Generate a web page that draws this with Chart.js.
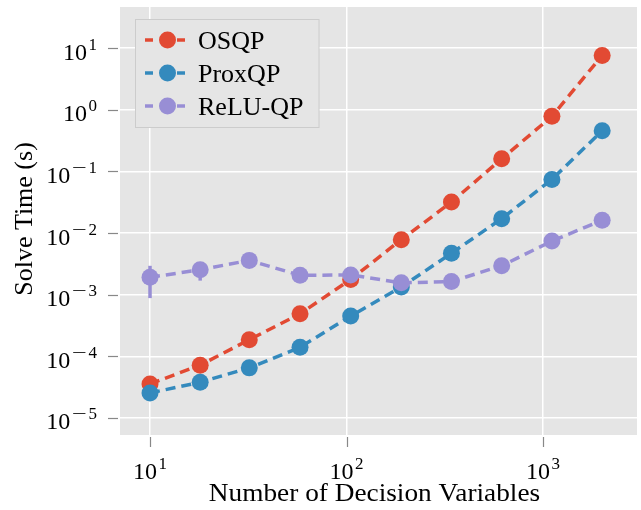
<!DOCTYPE html>
<html><head><meta charset="utf-8">
<script src="https://cdn.jsdelivr.net/npm/chart.js@4.4.0/dist/chart.umd.min.js"></script>
<style>html,body{margin:0;padding:0;background:#fff;} canvas{display:block;}</style>
</head><body>
<canvas id="c" width="641" height="510"></canvas>
<script>
// ---- data ----
const nVars      = [10, 18, 32, 58, 105, 190, 342, 616, 1110, 2000];
const osqpTime   = [3.56e-5, 7.2e-5, 1.86e-4, 4.9e-4, 1.77e-3, 7.8e-3, 0.0318, 0.160, 0.78, 7.6];
const proxqpTime = [2.55e-5, 3.8e-5, 6.5e-5, 1.40e-4, 4.5e-4, 1.33e-3, 4.7e-3, 0.0171, 0.074, 0.456];
const reluqpTime = [1.91e-3, 2.54e-3, 3.6e-3, 2.06e-3, 2.09e-3, 1.56e-3, 1.63e-3, 2.95e-3, 7.4e-3, 0.0161];
const reluqpErr  = [1.03e-3, 0.85e-3, 0, 0, 0, 0, 0, 0, 0, 0];
const seriesNames  = ['OSQP', 'ProxQP', 'ReLU-QP'];
const seriesColors = ['#E24A33', '#348ABD', '#988ED5'];
const xTickValues = [10, 100, 1000];
const xTickExps   = ['1', '2', '3'];
const yTickValues = [1e-5, 1e-4, 1e-3, 1e-2, 1e-1, 1e0, 1e1];
const yTickExps   = ['−5', '−4', '−3', '−2', '−1', '0', '1'];
const xTitle = 'Number of Decision Variables';
const yTitle = 'Solve Time (s)';

const SERIF = '"Liberation Serif", "Times New Roman", serif';

function mkSet(i, vals, order, errs) {
  return {
    label: seriesNames[i],
    data: nVars.map((x, k) => ({x: x, y: vals[k]})),
    errors: errs || null,
    borderColor: seriesColors[i],
    backgroundColor: seriesColors[i],
    pointBackgroundColor: seriesColors[i],
    pointBorderColor: seriesColors[i],
    pointBorderWidth: 0,
    pointRadius: 8.5,
    pointHoverRadius: 8.5,
    borderWidth: 3.5,
    borderDash: [10, 6],
    fill: false,
    tension: 0,
    clip: false,
    order: order
  };
}

function drawPow(ctx, exp, x, baseY, align) {
  ctx.font = '24px ' + SERIF;
  const wb = ctx.measureText('10').width;
  const neg = exp.charAt(0) === '−';
  const digits = neg ? exp.slice(1) : exp;
  ctx.font = '17px ' + SERIF;
  const wd = ctx.measureText(digits).width;
  const wmRaw = ctx.measureText('−').width;
  const msc = 1.55;
  const wm = neg ? wmRaw * msc + 2 : 0;
  const gap = 1.5;
  const total = wb + gap + wm + wd;
  const x0 = align === 'center' ? x - total / 2 : x - total;
  ctx.textAlign = 'left';
  ctx.textBaseline = 'alphabetic';
  ctx.fillStyle = '#000';
  ctx.font = '24px ' + SERIF;
  ctx.fillText('10', x0, baseY);
  let xe = x0 + wb + gap;
  ctx.font = '17px ' + SERIF;
  if (neg) {
    ctx.save();
    ctx.translate(xe, baseY - 10);
    ctx.scale(msc, 1);
    ctx.fillText('−', 0, 0);
    ctx.restore();
    xe += wm;
  }
  ctx.fillText(digits, xe, baseY - 10);
}

const decor = {
  id: 'decor',
  beforeDraw(chart) {
    const {ctx, chartArea: a} = chart;
    ctx.save();
    ctx.fillStyle = '#fff';
    ctx.fillRect(0, 0, chart.width, chart.height);
    ctx.fillStyle = '#E5E5E5';
    ctx.fillRect(a.left, a.top, a.right - a.left, a.bottom - a.top);
    ctx.restore();
  },
  beforeDatasetDraw(chart, args) {
    const ds = chart.data.datasets[args.index];
    if (!ds.errors) return;
    const {ctx} = chart;
    const xs = chart.scales.x, ys = chart.scales.y;
    ctx.save();
    ctx.strokeStyle = ds.borderColor;
    ctx.lineWidth = 3.5;
    ds.data.forEach((p, k) => {
      const e = ds.errors[k];
      if (!e) return;
      const px = xs.getPixelForValue(p.x);
      ctx.beginPath();
      ctx.moveTo(px, ys.getPixelForValue(p.y + e));
      ctx.lineTo(px, ys.getPixelForValue(p.y - e));
      ctx.stroke();
    });
    ctx.restore();
  },
  afterDraw(chart) {
    const {ctx, chartArea: a} = chart;
    const xs = chart.scales.x, ys = chart.scales.y;
    ctx.save();
    // tick marks
    ctx.strokeStyle = '#888';
    ctx.lineWidth = 1.2;
    xTickValues.forEach(v => {
      const px = Math.round(xs.getPixelForValue(v)) + 0.5;
      ctx.beginPath(); ctx.moveTo(px, a.bottom + 2); ctx.lineTo(px, a.bottom + 12); ctx.stroke();
    });
    yTickValues.forEach(v => {
      const py = Math.round(ys.getPixelForValue(v)) + 0.5;
      ctx.beginPath(); ctx.moveTo(a.left - 12, py); ctx.lineTo(a.left - 2, py); ctx.stroke();
    });
    // tick labels
    xTickValues.forEach((v, i) => {
      drawPow(ctx, xTickExps[i], xs.getPixelForValue(v), a.bottom + 44, 'center');
    });
    yTickValues.forEach((v, i) => {
      drawPow(ctx, yTickExps[i], a.left - 23, ys.getPixelForValue(v) + 11.5, 'right');
    });
    // axis titles
    ctx.fillStyle = '#000';
    ctx.font = '26px ' + SERIF;
    ctx.textAlign = 'center';
    ctx.textBaseline = 'alphabetic';
    ctx.save();
    ctx.translate((a.left + a.right) / 2 - 4, 501);
    ctx.scale(1.05, 1);
    ctx.fillText(xTitle, 0, 0);
    ctx.restore();
    ctx.save();
    ctx.translate(31.5, (a.top + a.bottom) / 2 - 2);
    ctx.rotate(-Math.PI / 2);
    ctx.fillText(yTitle, 0, 0);
    ctx.restore();
    // legend
    const lx = 135.5, ly = 19.5, lw = 183.5, lh = 108;
    ctx.fillStyle = '#E5E5E5';
    ctx.strokeStyle = '#CCCCCC';
    ctx.lineWidth = 1;
    ctx.fillRect(lx, ly, lw, lh);
    ctx.strokeRect(lx, ly, lw, lh);
    seriesNames.forEach((name, i) => {
      const ry = 40 + i * 33;
      ctx.strokeStyle = seriesColors[i];
      ctx.lineWidth = 3.5;
      ctx.beginPath(); ctx.moveTo(145, ry); ctx.lineTo(153, ry); ctx.stroke();
      ctx.beginPath(); ctx.moveTo(177, ry); ctx.lineTo(185, ry); ctx.stroke();
      ctx.fillStyle = seriesColors[i];
      ctx.beginPath(); ctx.arc(167.5, ry, 8.5, 0, Math.PI * 2); ctx.fill();
      ctx.fillStyle = '#000';
      ctx.font = '26px ' + SERIF;
      ctx.textAlign = 'left';
      ctx.fillText(name, 198, ry + 8.5);
    });
    ctx.restore();
  }
};

new Chart(document.getElementById('c'), {
  type: 'line',
  data: {
    datasets: [
      mkSet(0, osqpTime, 2),
      mkSet(1, proxqpTime, 1),
      mkSet(2, reluqpTime, 0, reluqpErr)
    ]
  },
  options: {
    responsive: false,
    animation: false,
    devicePixelRatio: 1,
    layout: {padding: {left: 120, right: 4, top: 7, bottom: 75}, autoPadding: false},
    plugins: {legend: {display: false}, tooltip: {enabled: false}},
    scales: {
      x: {
        type: 'logarithmic', min: 7.035, max: 3008,
        afterBuildTicks: s => { s.ticks = xTickValues.map(v => ({value: v, major: true})); },
        ticks: {display: false},
        grid: {color: '#FFFFFF', lineWidth: 1.5, drawTicks: false},
        border: {display: false}
      },
      y: {
        type: 'logarithmic', min: 5.30e-6, max: 46.3,
        afterBuildTicks: s => { s.ticks = yTickValues.map(v => ({value: v, major: true})); },
        ticks: {display: false},
        grid: {color: '#FFFFFF', lineWidth: 1.5, drawTicks: false},
        border: {display: false}
      }
    }
  },
  plugins: [decor]
});
</script>
</body></html>
